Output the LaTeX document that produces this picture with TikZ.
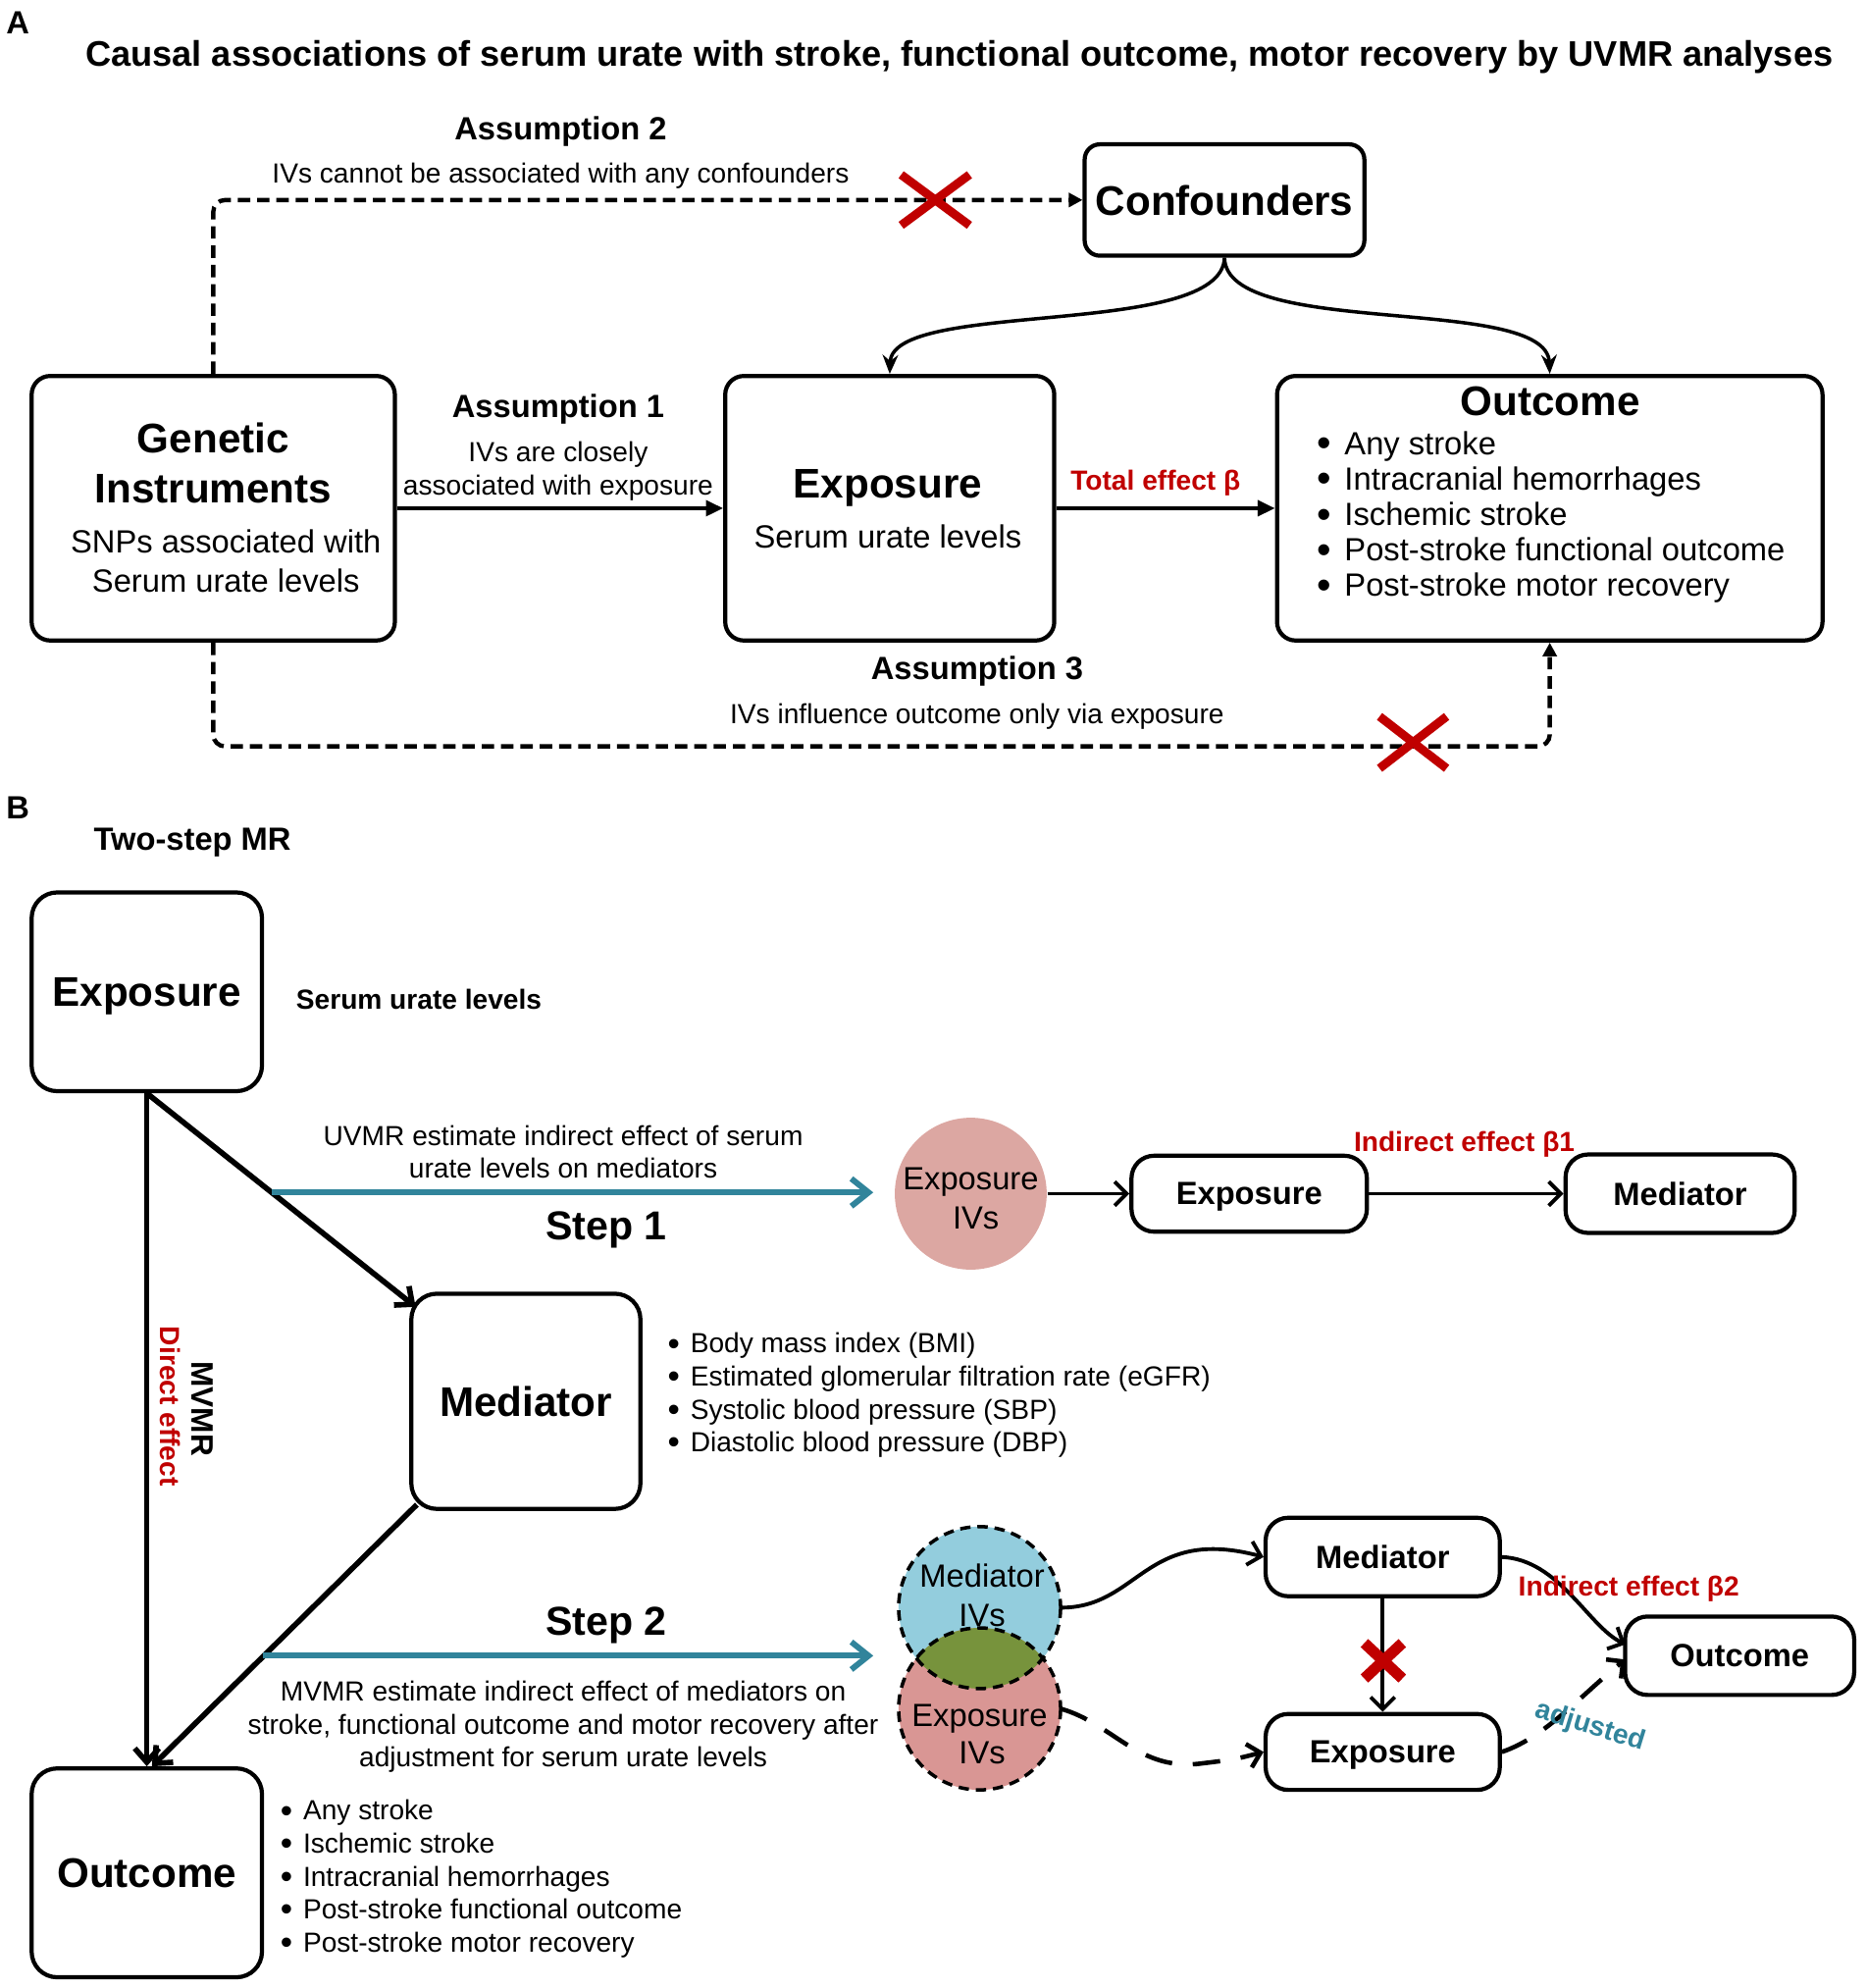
\documentclass[tikz,border=0pt]{standalone}
\usepackage{fontspec}
\setmainfont{Liberation Sans}
\usetikzlibrary{arrows.meta,calc}
\definecolor{myred}{HTML}{C00000}
\definecolor{myteal}{HTML}{31849B}
\definecolor{pinkA}{HTML}{DCA7A2}
\definecolor{pinkB}{HTML}{D99694}
\definecolor{blueB}{HTML}{93CDDD}
\definecolor{greenB}{HTML}{77933C}
\newcommand{\fEight}{\fontsize{8pt}{9.6pt}\selectfont}
\newcommand{\fNine}{\fontsize{9.3pt}{11pt}\selectfont}
\newcommand{\bEight}{\fontsize{8pt}{9.6pt}\selectfont\bfseries}
\newcommand{\bNine}{\fontsize{9.3pt}{11pt}\selectfont\bfseries}
\newcommand{\bMv}{\fontsize{9pt}{11pt}\selectfont\bfseries}
\newcommand{\bTwelve}{\fontsize{12pt}{14pt}\selectfont\bfseries}
\newcommand{\bStep}{\fontsize{11.7pt}{14pt}\selectfont\bfseries}
\newcommand{\bTitle}{\fontsize{10.3pt}{12pt}\selectfont\bfseries}
\newcommand{\bulA}{\makebox[8pt][l]{\raisebox{-0.7pt}{\fontsize{11.8pt}{12pt}\selectfont •}}}
\newcommand{\bulB}{\makebox[6.6pt][l]{\raisebox{-0.6pt}{\fontsize{10pt}{12pt}\selectfont •}}}
\def\u{0.0129cm}
\begin{document}
\begin{tikzpicture}[x=0.0129cm,y=-0.0129cm,
  txt/.style={inner sep=0pt, text depth=0pt},
  boxA/.style={draw, line width=1.2pt, rounded corners=0.19cm, inner sep=0pt, text depth=0pt},
  boxB/.style={draw, line width=1.2pt, rounded corners=0.26cm, inner sep=0pt, text depth=0pt, font=\bTwelve},
  pill/.style={draw, line width=1.2pt, rounded corners=0.23cm, inner sep=0pt, text depth=0pt, font=\bNine},
  arrA/.style={line width=1.1pt, -{Triangle[length=5pt,width=4.5pt]}},
  curA/.style={line width=1pt, -{Stealth[length=5.5pt,width=4.5pt]}},
  dashA/.style={line width=1.25pt, dash pattern=on 3.6pt off 2pt, rounded corners=0.12cm, -{Triangle[length=4pt,width=4pt]}},
  arrB/.style={line width=1.6pt, -{Straight Barb[length=4pt,width=7pt]}},
  arrS/.style={line width=1.1pt, -{Straight Barb[length=3.5pt,width=7pt]}},
  dashL/.style={dash pattern=on 8pt off 6pt, line width=1.3pt},
  tealarr/.style={line width=1.7pt, myteal, -{Straight Barb[length=5pt,width=8pt]}},
  redX/.style={myred, line width=2.5pt},
  circdash/.style={draw, line width=1pt, dash pattern=on 3pt off 2pt}
]
\useasboundingbox (0,0) rectangle (1474.4,1570.5);

% ================= Part A =================
\node[txt,font=\bNine] (labA) at (14,18) {A};
\node[txt,font=\bTitle] (title) at (758,42) {Causal associations of serum urate with stroke, functional outcome, motor recovery by UVMR analyses};

\node[txt,font=\bNine] (as2) at (443,101) {Assumption 2};
\node[txt,font=\fEight] (as2t) at (443,137) {IVs cannot be associated with any confounders};

\node[boxA, rounded corners=0.155cm, minimum width=221*\u, minimum height=88*\u, font=\bTwelve] (conf) at (967.5,158) {Confounders};

\node[boxA, minimum width=287*\u, minimum height=209*\u] (gen) at (168.5,401.5) {};
\node[txt,font=\bTwelve] (gen1) at (168.5,346) {Genetic};
\node[txt,font=\bTwelve] (gen2) at (168.5,386) {Instruments};
\node[txt,font=\fNine] (gen3) at (178.5,428) {SNPs associated with};
\node[txt,font=\fNine] (gen4) at (178.5,459) {Serum urate levels};

\node[boxA, minimum width=260*\u, minimum height=209*\u] (expA) at (703,401.5) {};
\node[txt,font=\bTwelve] (expA1) at (701.5,382) {Exposure};
\node[txt,font=\fNine] (expA2) at (701.5,424) {Serum urate levels};

\node[boxA, minimum width=431*\u, minimum height=209*\u] (outA) at (1224.5,401.5) {};
\node[txt,font=\bTwelve] (outA0) at (1225,317) {Outcome};
\node[txt,font=\fNine,anchor=west] (outA1) at (1040,350) {\bulA Any stroke};
\node[txt,font=\fNine,anchor=west] (outA2) at (1040,378) {\bulA Intracranial hemorrhages};
\node[txt,font=\fNine,anchor=west] (outA3) at (1040,406) {\bulA Ischemic stroke};
\node[txt,font=\fNine,anchor=west] (outA4) at (1040,434) {\bulA Post-stroke functional outcome};
\node[txt,font=\fNine,anchor=west] (outA5) at (1040,462) {\bulA Post-stroke motor recovery};

\node[txt,font=\bNine] (as1) at (441,321) {Assumption 1};
\node[txt,font=\fEight] (as1a) at (441,357) {IVs are closely};
\node[txt,font=\fEight] (as1b) at (441,383) {associated with exposure};
\node[txt,font=\bEight,text=myred] (tot) at (913,379) {Total effect β};

\node[txt,font=\bNine] (as3) at (772,528) {Assumption 3};
\node[txt,font=\fEight] (as3t) at (772,564) {IVs influence outcome only via exposure};

\draw[arrA] (gen.east) -- (expA.west);
\draw[arrA] (expA.east) -- (outA.west);
\draw[curA] (conf.south) .. controls (965,268) and (705,236) .. (expA.north);
\draw[curA] (conf.south) .. controls (969,268) and (1222,232) .. (outA.north);
\draw[dashA] (gen.north) |- (conf.west);
\draw[dashA] (gen.south) -- ++(0,82) -| (outA.south);

\coordinate (x1a) at (712,138); \coordinate (x1b) at (766,178);
\coordinate (x1c) at (712,178); \coordinate (x1d) at (766,138);
\draw[redX] (x1a) -- (x1b) (x1c) -- (x1d);
\coordinate (x2a) at (1090,566); \coordinate (x2b) at (1143,607);
\coordinate (x2c) at (1090,607); \coordinate (x2d) at (1143,566);
\draw[redX] (x2a) -- (x2b) (x2c) -- (x2d);

% ================= Part B =================
\node[txt,font=\bNine] (labB) at (14,638) {B};
\node[txt,font=\bNine] (two) at (152,663) {Two-step MR};

\node[boxB, minimum width=182*\u, minimum height=157*\u] (expB) at (116,783.5) {Exposure};
\node[txt,font=\bEight] (serB) at (331,789) {Serum urate levels};
\node[boxB, minimum width=181*\u, minimum height=170*\u] (medB) at (415.5,1107) {Mediator};
\node[boxB, minimum width=182*\u, minimum height=165*\u] (outB) at (116,1479.5) {Outcome};

\node[txt,font=\fEight,anchor=west] (mb1) at (527,1061) {\bulB Body mass index (BMI)};
\node[txt,font=\fEight,anchor=west] (mb2) at (527,1087) {\bulB Estimated glomerular filtration rate (eGFR)};
\node[txt,font=\fEight,anchor=west] (mb3) at (527,1113) {\bulB Systolic blood pressure (SBP)};
\node[txt,font=\fEight,anchor=west] (mb4) at (527,1139) {\bulB Diastolic blood pressure (DBP)};

\node[txt,font=\fEight,anchor=west] (ob1) at (221,1430) {\bulB Any stroke};
\node[txt,font=\fEight,anchor=west] (ob2) at (221,1456) {\bulB Ischemic stroke};
\node[txt,font=\fEight,anchor=west] (ob3) at (221,1482) {\bulB Intracranial hemorrhages};
\node[txt,font=\fEight,anchor=west] (ob4) at (221,1508) {\bulB Post-stroke functional outcome};
\node[txt,font=\fEight,anchor=west] (ob5) at (221,1534) {\bulB Post-stroke motor recovery};

\draw[arrB] (expB.south) -- (outB.north);
\draw[arrB] (expB.south) -- ($(medB.north west)+(5,12)$);
\draw[arrB] ($(medB.south west)+(6,-5)$) -- ($(outB.north)+(4,0)$);

\node[txt,font=\bMv,rotate=-90] (mvmr) at (160,1113) {MVMR};
\node[txt,font=\bEight,text=myred,rotate=-90] (dir) at (135,1111) {Direct effect};

% Step 1
\node[txt,font=\fEight] (s1a) at (445,897) {UVMR estimate indirect effect of serum};
\node[txt,font=\fEight] (s1b) at (445,923) {urate levels on mediators};
\node[txt,font=\bStep] (s1) at (479,968) {Step 1};
\coordinate (t1s) at (215,942); \coordinate (t1e) at (690,942);
\draw[tealarr] (t1s) -- (t1e);

\node[circle, fill=pinkA, minimum size=120*\u, inner sep=0pt] (eiv1) at (767,943) {};
\node[txt,font=\fNine] (eiv1a) at (767,931) {Exposure};
\node[txt,font=\fNine] (eiv1b) at (771,962) {IVs};
\node[pill, minimum width=186*\u, minimum height=60*\u] (exps1) at (987,943) {Exposure};
\node[pill, minimum width=181*\u, minimum height=62*\u] (meds1) at (1327.5,943) {Mediator};
\draw[arrS] (eiv1.east) -- (exps1.west);
\draw[arrS] (exps1.east) -- (meds1.west);
\node[txt,font=\bEight,text=myred] (ie1) at (1157,902) {Indirect effect β1};

% Step 2
\node[txt,font=\bStep] (s2) at (479,1281) {Step 2};
\coordinate (t2s) at (208,1308); \coordinate (t2e) at (690,1308);
\draw[tealarr] (t2s) -- (t2e);
\node[txt,font=\fEight] (s2a) at (445,1336) {MVMR estimate indirect effect of mediators on};
\node[txt,font=\fEight] (s2b) at (445,1362) {stroke, functional outcome and motor recovery after};
\node[txt,font=\fEight] (s2c) at (445,1388) {adjustment for serum urate levels};

\node[circle, fill=blueB, minimum size=128*\u, inner sep=0pt] (miv) at (774,1270) {};
\node[circle, fill=pinkB, minimum size=128*\u, inner sep=0pt] (eiv2) at (774,1350) {};
\begin{scope}
  \clip (774,1270) circle (64);
  \fill[greenB] (774,1350) circle (64);
\end{scope}
\draw[circdash] (774,1270) circle (64);
\draw[circdash] (774,1350) circle (64);
\node[txt,font=\fNine] (miva) at (776,1245) {Mediator};
\node[txt,font=\fNine] (mivb) at (776,1276) {IVs};
\node[txt,font=\fNine] (eiv2a) at (774,1355) {Exposure};
\node[txt,font=\fNine] (eiv2b) at (776,1385) {IVs};

\node[pill, minimum width=185*\u, minimum height=62*\u] (meds2) at (1092.5,1230) {Mediator};
\node[pill, minimum width=185*\u, minimum height=60*\u] (exps2) at (1092.5,1384) {Exposure};
\node[pill, minimum width=181*\u, minimum height=62*\u] (outs2) at (1374.5,1308) {Outcome};

\draw[arrS] (miv.east) .. controls (900,1270) and (905,1205) .. (meds2.west);
\draw[arrS, dashL] (eiv2.east) .. controls (880,1362) and (900,1400) .. (950,1393) .. controls (975,1390) .. (exps2.west);
\draw[arrS] (meds2.south) -- (exps2.north);
\coordinate (x3a) at (1078,1298); \coordinate (x3b) at (1108,1326);
\coordinate (x3c) at (1078,1326); \coordinate (x3d) at (1108,1298);
\draw[myred, line width=3.2pt] (x3a) -- (x3b) (x3c) -- (x3d);
\draw[arrS] (meds2.east) .. controls (1232,1232) and (1255,1285) .. ($(outs2.west)+(2,-9)$);
\draw[arrS, dashL] (exps2.east) .. controls (1222,1372) and (1250,1338) .. ($(outs2.west)+(2,3)$);
\node[txt,font=\bEight,text=myred] (ie2) at (1287,1253) {Indirect effect β2};
\node[txt,font=\bEight,text=myteal,rotate=-17] (adj) at (1257,1362) {adjusted};
\end{tikzpicture}
\end{document}
